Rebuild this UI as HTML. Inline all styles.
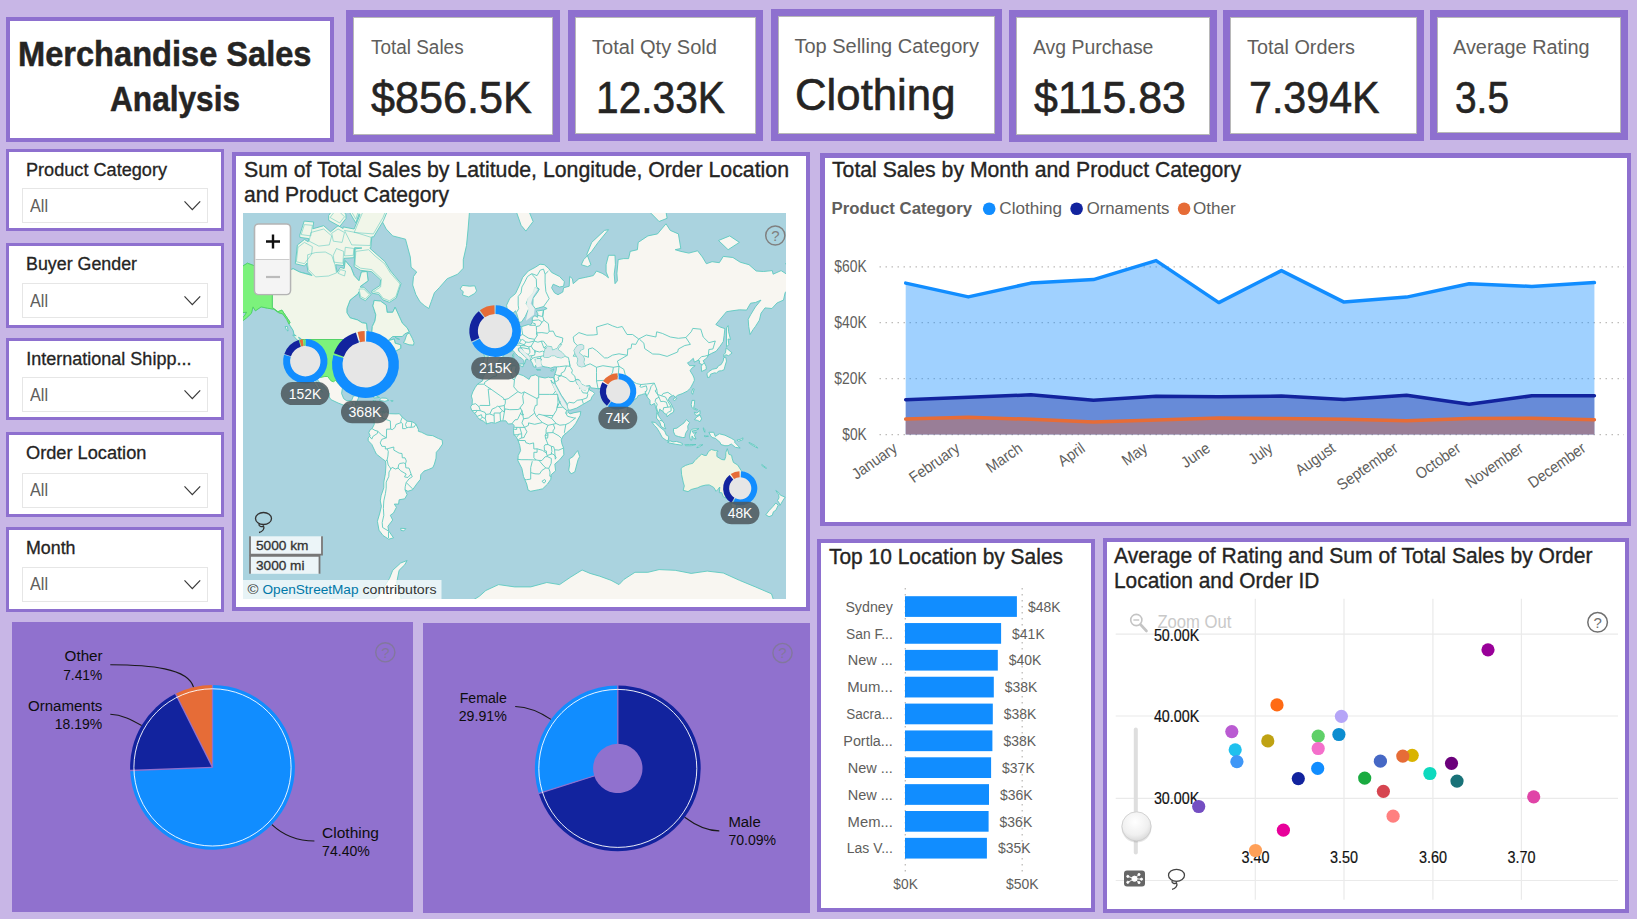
<!DOCTYPE html>
<html lang="en"><head><meta charset="utf-8"><title>Merchandise Sales Analysis</title>
<style>
html,body{margin:0;padding:0}
body{width:1637px;height:919px;background:#C8B6E6;position:relative;overflow:hidden;font-family:"Liberation Sans",sans-serif}
.panel{position:absolute;box-sizing:border-box;background:#fff;border:4px solid #8E70CF}
.card{position:absolute;box-sizing:border-box;background:#fff;border:7px solid #8E70CF;box-shadow:inset 0 0 0 1px #B8B8B8}
.fill{position:absolute;background:#9071CE}
.dd{position:absolute;box-sizing:border-box;background:#fff;border:1px solid #E6E6E6}
.t{position:absolute;white-space:nowrap;transform-origin:0 50%;display:block}
.abs{position:absolute}
svg text{font-family:"Liberation Sans",sans-serif}
</style></head>
<body>
<div class="panel" style="left:6px;top:17px;width:328px;height:125px;border-width:4px">
</div>
<span class="t" style="left:18.00px;top:36.37px;font-size:35px;line-height:35px;color:#252423;font-weight:bold;-webkit-text-stroke:0.5px #252423;transform:scaleX(0.9313);">Merchandise Sales</span>
<span class="t" style="left:110.20px;top:80.97px;font-size:35px;line-height:35px;color:#252423;font-weight:bold;-webkit-text-stroke:0.5px #252423;transform:scaleX(0.9030);">Analysis</span>
<div class="card" style="left:346px;top:10px;width:214px;height:132px"></div>
<span class="t" style="left:370.70px;top:36.67px;font-size:20px;line-height:20px;color:#605E5C;transform:scaleX(0.9465);">Total Sales</span>
<span class="t" style="left:371.20px;top:74.61px;font-size:45px;line-height:45px;color:#252423;-webkit-text-stroke:0.6px #252423;transform:scaleX(0.9591);">$856.5K</span>
<div class="card" style="left:568px;top:10px;width:195px;height:131px"></div>
<span class="t" style="left:592.00px;top:36.67px;font-size:20px;line-height:20px;color:#605E5C;transform:scaleX(1.0040);">Total Qty Sold</span>
<span class="t" style="left:596.00px;top:74.61px;font-size:45px;line-height:45px;color:#252423;-webkit-text-stroke:0.6px #252423;transform:scaleX(0.9044);">12.33K</span>
<div class="card" style="left:771px;top:9px;width:231px;height:132px"></div>
<span class="t" style="left:794.40px;top:35.87px;font-size:20px;line-height:20px;color:#605E5C;">Top Selling Category</span>
<span class="t" style="left:795.00px;top:71.91px;font-size:45px;line-height:45px;color:#252423;-webkit-text-stroke:0.6px #252423;transform:scaleX(0.9721);">Clothing</span>
<div class="card" style="left:1009px;top:10px;width:208px;height:132px"></div>
<span class="t" style="left:1032.70px;top:36.67px;font-size:20px;line-height:20px;color:#605E5C;transform:scaleX(0.9698);">Avg Purchase</span>
<span class="t" style="left:1034.00px;top:74.61px;font-size:45px;line-height:45px;color:#252423;-webkit-text-stroke:0.6px #252423;transform:scaleX(0.9540);">$115.83</span>
<div class="card" style="left:1223px;top:10px;width:201px;height:131px"></div>
<span class="t" style="left:1247.00px;top:36.67px;font-size:20px;line-height:20px;color:#605E5C;transform:scaleX(0.9915);">Total Orders</span>
<span class="t" style="left:1248.80px;top:74.61px;font-size:45px;line-height:45px;color:#252423;-webkit-text-stroke:0.6px #252423;transform:scaleX(0.9157);">7.394K</span>
<div class="card" style="left:1430px;top:10px;width:198px;height:130px"></div>
<span class="t" style="left:1453.00px;top:36.67px;font-size:20px;line-height:20px;color:#605E5C;transform:scaleX(0.9934);">Average Rating</span>
<span class="t" style="left:1455.00px;top:74.61px;font-size:45px;line-height:45px;color:#252423;-webkit-text-stroke:0.6px #252423;transform:scaleX(0.8632);">3.5</span>
<div class="panel" style="left:6px;top:149px;width:218px;height:82px;border-width:3px"></div>
<span class="t" style="left:26.30px;top:161.16px;font-size:18px;line-height:18px;color:#252423;-webkit-text-stroke:0.3px #252423;transform:scaleX(1.0066);">Product Category</span>
<div class="dd" style="left:21.5px;top:188.3px;width:186.5px;height:35px"></div>
<span class="t" style="left:30.00px;top:198.09px;font-size:17.5px;line-height:17.5px;color:#605E5C;transform:scaleX(0.9255);">All</span>
<svg class="abs" style="left:182px;top:199.3px" width="20" height="13" viewBox="0 0 20 13"><path d="M2.5 2.4 L10.3 10.6 L18.2 2.4" fill="none" stroke="#3a3a3a" stroke-width="1.25"/></svg>
<div class="panel" style="left:6px;top:243px;width:218px;height:85px;border-width:3px"></div>
<span class="t" style="left:26.30px;top:255.36px;font-size:18px;line-height:18px;color:#252423;-webkit-text-stroke:0.3px #252423;transform:scaleX(0.9905);">Buyer Gender</span>
<div class="dd" style="left:21.5px;top:283.2px;width:186.5px;height:35px"></div>
<span class="t" style="left:30.00px;top:292.99px;font-size:17.5px;line-height:17.5px;color:#605E5C;transform:scaleX(0.9255);">All</span>
<svg class="abs" style="left:182px;top:294.2px" width="20" height="13" viewBox="0 0 20 13"><path d="M2.5 2.4 L10.3 10.6 L18.2 2.4" fill="none" stroke="#3a3a3a" stroke-width="1.25"/></svg>
<div class="panel" style="left:6px;top:338px;width:218px;height:82px;border-width:3px"></div>
<span class="t" style="left:26.30px;top:349.96px;font-size:18px;line-height:18px;color:#252423;-webkit-text-stroke:0.3px #252423;">International Shipp...</span>
<div class="dd" style="left:21.5px;top:377.3px;width:186.5px;height:35px"></div>
<span class="t" style="left:30.00px;top:387.09px;font-size:17.5px;line-height:17.5px;color:#605E5C;transform:scaleX(0.9255);">All</span>
<svg class="abs" style="left:182px;top:388.3px" width="20" height="13" viewBox="0 0 20 13"><path d="M2.5 2.4 L10.3 10.6 L18.2 2.4" fill="none" stroke="#3a3a3a" stroke-width="1.25"/></svg>
<div class="panel" style="left:6px;top:432px;width:218px;height:85px;border-width:3px"></div>
<span class="t" style="left:26.30px;top:443.96px;font-size:18px;line-height:18px;color:#252423;-webkit-text-stroke:0.3px #252423;transform:scaleX(1.0112);">Order Location</span>
<div class="dd" style="left:21.5px;top:472.5px;width:186.5px;height:35px"></div>
<span class="t" style="left:30.00px;top:482.29px;font-size:17.5px;line-height:17.5px;color:#605E5C;transform:scaleX(0.9255);">All</span>
<svg class="abs" style="left:182px;top:483.5px" width="20" height="13" viewBox="0 0 20 13"><path d="M2.5 2.4 L10.3 10.6 L18.2 2.4" fill="none" stroke="#3a3a3a" stroke-width="1.25"/></svg>
<div class="panel" style="left:6px;top:527px;width:218px;height:85px;border-width:3px"></div>
<span class="t" style="left:26.30px;top:538.56px;font-size:18px;line-height:18px;color:#252423;-webkit-text-stroke:0.3px #252423;transform:scaleX(0.9894);">Month</span>
<div class="dd" style="left:21.5px;top:566.5px;width:186.5px;height:35px"></div>
<span class="t" style="left:30.00px;top:576.29px;font-size:17.5px;line-height:17.5px;color:#605E5C;transform:scaleX(0.9255);">All</span>
<svg class="abs" style="left:182px;top:577.5px" width="20" height="13" viewBox="0 0 20 13"><path d="M2.5 2.4 L10.3 10.6 L18.2 2.4" fill="none" stroke="#3a3a3a" stroke-width="1.25"/></svg>
<div class="panel" style="left:232px;top:152px;width:578px;height:459px"></div>
<span class="t" style="left:243.70px;top:159.80px;font-size:21.5px;line-height:21.5px;color:#252423;-webkit-text-stroke:0.35px #252423;transform:scaleX(0.9898);">Sum of Total Sales by Latitude, Longitude, Order Location</span>
<span class="t" style="left:243.70px;top:184.60px;font-size:21.5px;line-height:21.5px;color:#252423;-webkit-text-stroke:0.35px #252423;transform:scaleX(0.9801);">and Product Category</span>
<svg class="abs" style="left:243px;top:213px" width="543" height="386" viewBox="243 213 543 386"><rect x="243" y="213" width="543" height="386" fill="#AAD3DF"/><path d="M229.0 288.6 L232.2 277.4 L238.6 268.7 L247.4 263.2 L261.1 268.2 L272.3 271.5 L281.9 272.9 L293.2 268.7 L299.6 272.0 L310.8 274.7 L315.6 277.8 L325.3 279.5 L334.9 279.1 L342.9 277.4 L345.3 260.7 L350.9 267.2 L354.2 275.6 L359.0 280.8 L361.4 272.0 L367.0 271.5 L368.1 280.8 L360.6 286.2 L358.2 293.6 L350.1 300.1 L346.9 308.5 L346.9 312.7 L350.1 317.8 L357.4 319.9 L362.2 322.8 L366.5 323.4 L367.0 329.2 L369.4 333.7 L371.8 332.9 L372.3 326.5 L375.0 320.8 L375.8 314.8 L372.9 305.9 L374.2 300.4 L380.6 301.1 L386.2 305.2 L387.1 312.3 L392.7 312.3 L395.1 307.2 L399.1 316.3 L402.3 323.1 L407.1 327.8 L409.2 331.8 L404.7 333.9 L402.3 336.5 L392.7 336.5 L387.9 340.7 L394.3 339.0 L395.1 343.2 L400.7 344.8 L400.7 348.3 L393.5 352.4 L391.9 349.0 L386.2 352.0 L385.1 355.7 L386.2 356.6 L380.2 358.6 L377.4 363.2 L376.6 366.5 L377.4 369.9 L373.4 372.5 L368.6 376.5 L368.1 380.8 L370.0 385.8 L369.6 388.7 L367.3 386.9 L365.7 383.6 L363.8 379.9 L359.8 379.2 L355.0 379.5 L355.1 381.6 L351.7 381.0 L346.9 380.8 L342.6 384.2 L342.4 388.2 L341.6 393.5 L343.7 398.7 L346.9 400.9 L351.7 400.3 L353.3 396.1 L359.0 395.3 L358.2 398.7 L356.9 401.6 L356.1 404.9 L363.0 405.0 L365.1 406.4 L364.4 410.5 L364.4 413.4 L367.0 416.3 L370.5 415.7 L373.4 416.0 L374.5 417.2 L373.6 419.3 L369.7 419.1 L367.8 418.1 L365.4 417.5 L361.1 414.7 L358.2 409.7 L351.7 408.0 L347.4 404.3 L343.7 405.2 L338.1 403.0 L330.9 399.6 L329.3 397.0 L329.3 393.5 L325.3 388.5 L321.2 384.5 L317.6 379.9 L314.5 376.7 L314.8 379.9 L318.0 384.5 L320.4 389.1 L322.9 392.3 L318.5 389.1 L314.8 384.5 L312.7 379.9 L310.7 375.2 L308.4 372.3 L305.0 371.1 L303.0 367.1 L302.0 364.6 L299.9 361.1 L299.1 355.7 L299.6 346.2 L298.5 341.0 L302.0 340.7 L301.2 338.8 L294.0 334.5 L293.2 330.5 L289.5 325.1 L286.7 319.3 L282.7 313.9 L278.7 312.7 L273.9 309.2 L267.5 308.2 L261.1 306.9 L255.4 310.8 L253.0 306.9 L251.4 313.3 L246.6 317.8 L241.0 322.2 L234.6 324.5 L238.6 320.8 L244.2 316.3 L246.6 312.3 L241.0 312.7 L238.6 308.5 L233.8 305.2 L232.2 300.8 L234.3 298.3 L240.2 296.1 L240.2 292.4 L234.6 292.8 L231.4 292.0ZM381.4 219.9 L389.5 204.4 L402.3 183.6 L426.4 173.8 L450.5 164.2 L466.5 183.6 L479.3 189.2 L469.7 209.0 L468.1 229.0 L466.5 245.5 L463.3 259.6 L463.3 268.2 L457.7 274.2 L447.2 278.7 L439.2 287.8 L434.4 292.8 L431.2 301.8 L428.8 308.5 L424.8 305.9 L420.0 301.8 L415.9 294.7 L412.7 285.0 L413.5 276.5 L416.7 272.0 L411.1 267.2 L410.3 257.0 L405.5 239.2 L392.7 235.9 L386.2 229.0ZM374.5 417.2 L377.4 413.9 L379.8 412.7 L383.8 410.9 L383.8 413.4 L386.2 411.7 L389.5 413.7 L395.9 413.9 L399.4 413.7 L402.3 417.2 L407.1 421.2 L411.9 421.6 L415.9 424.0 L418.4 429.4 L418.4 431.3 L421.6 432.3 L427.2 435.1 L432.8 435.7 L438.4 438.5 L442.1 439.9 L442.6 444.0 L439.2 449.0 L436.3 452.3 L436.0 458.2 L434.4 464.1 L432.8 467.6 L428.8 469.4 L424.0 471.1 L420.8 474.7 L420.4 479.3 L416.7 484.0 L412.7 489.7 L407.9 491.3 L405.0 489.7 L407.1 494.7 L404.7 498.8 L399.1 499.8 L398.6 504.1 L394.3 504.1 L396.4 507.3 L393.5 513.0 L390.3 515.3 L392.7 520.0 L387.9 526.3 L388.7 530.9 L393.5 537.8 L388.7 539.2 L383.0 535.5 L379.0 530.2 L377.4 521.3 L379.8 513.0 L381.4 506.3 L380.3 500.9 L381.1 495.7 L383.8 487.8 L383.8 482.1 L385.4 473.8 L385.9 465.9 L385.6 461.2 L382.2 458.7 L376.3 454.0 L374.7 450.6 L371.8 444.4 L368.3 440.8 L368.1 438.0 L370.2 435.9 L368.8 432.6 L370.2 429.7 L372.1 428.6 L374.2 424.5 L374.2 420.4 L373.6 419.3ZM489.1 368.7 L495.4 369.9 L500.2 367.3 L506.6 366.7 L513.0 365.9 L515.1 365.9 L516.3 366.5 L515.0 371.3 L516.3 373.2 L519.5 374.4 L523.2 375.6 L529.1 379.4 L530.7 376.1 L535.5 374.8 L538.7 376.7 L545.1 378.0 L548.4 377.1 L550.4 377.7 L553.5 377.5 L554.6 380.8 L553.5 384.0 L550.9 380.1 L552.4 384.0 L555.6 390.9 L558.3 396.1 L558.5 399.9 L561.5 405.4 L564.7 408.0 L567.9 410.5 L568.1 412.2 L570.0 413.9 L574.0 412.7 L580.8 411.5 L580.1 415.5 L575.6 423.7 L572.4 427.8 L566.8 432.6 L563.1 435.9 L561.2 439.9 L562.0 444.0 L563.6 448.1 L563.8 454.8 L559.6 459.9 L554.8 464.1 L555.6 470.8 L551.2 474.7 L550.8 479.3 L547.6 484.0 L542.7 488.8 L538.7 489.7 L530.7 491.3 L528.1 490.1 L526.7 484.0 L523.5 476.5 L521.9 468.5 L517.9 460.7 L518.2 455.6 L520.6 450.6 L519.8 445.7 L518.2 440.8 L516.6 437.5 L513.8 434.2 L513.5 430.2 L514.2 425.8 L512.6 423.7 L508.2 424.0 L505.8 420.8 L501.0 420.9 L495.4 423.2 L491.4 422.5 L486.6 423.9 L483.4 421.2 L480.1 419.6 L477.4 417.2 L476.6 415.5 L474.5 413.0 L471.8 410.5 L470.5 406.9 L472.1 404.7 L472.4 399.6 L471.3 396.1 L472.9 391.7 L475.3 387.3 L477.7 384.0 L482.6 380.8 L483.0 377.1 L485.0 373.6 L487.7 372.3ZM489.6 368.3 L488.3 366.7 L484.3 366.3 L483.4 362.8 L484.5 356.8 L483.7 353.3 L485.8 352.0 L492.2 352.7 L495.7 352.7 L496.7 349.9 L496.8 346.7 L495.1 343.9 L491.1 342.0 L493.0 340.0 L496.2 340.2 L496.0 338.0 L498.9 338.3 L501.2 335.0 L504.2 333.4 L506.1 329.2 L509.8 327.8 L512.6 326.7 L511.9 323.7 L511.8 317.8 L515.5 315.7 L515.1 319.3 L514.6 323.7 L516.3 326.5 L521.4 326.7 L528.3 324.5 L530.4 325.3 L532.3 322.2 L532.3 317.8 L534.9 315.7 L537.6 317.3 L537.8 313.6 L536.3 311.1 L543.5 310.1 L547.1 308.5 L543.5 306.6 L538.7 307.9 L535.4 308.8 L532.8 305.2 L533.1 298.3 L537.9 291.7 L539.2 289.0 L534.7 287.8 L533.1 292.8 L528.3 298.3 L526.2 303.5 L528.8 308.5 L525.4 316.3 L521.6 321.9 L519.3 322.5 L516.6 313.3 L515.6 310.8 L511.4 314.5 L507.7 312.7 L506.6 305.2 L509.8 298.3 L515.5 293.6 L519.5 285.0 L522.7 277.4 L528.3 271.0 L535.5 267.2 L540.0 264.2 L544.3 264.7 L548.4 268.2 L551.6 272.4 L559.6 276.5 L564.4 281.7 L563.6 286.2 L559.6 287.0 L553.2 284.2 L551.6 287.8 L554.5 292.8 L558.0 294.7 L562.8 292.0 L563.6 287.8 L569.2 286.2 L569.7 276.5 L572.4 278.7 L573.2 283.7 L578.9 278.7 L585.3 277.4 L593.3 275.6 L596.5 271.0 L602.1 273.3 L605.8 275.6 L608.5 277.8 L606.1 272.0 L606.1 264.7 L608.5 255.3 L615.0 255.3 L615.4 264.7 L614.2 274.2 L615.0 283.7 L617.4 280.8 L616.9 273.3 L618.2 259.6 L623.8 258.6 L628.6 258.6 L630.2 251.4 L637.4 249.7 L638.2 242.4 L647.9 235.9 L657.5 233.9 L666.0 223.8 L670.3 230.4 L678.4 233.9 L680.8 248.5 L675.2 249.7 L680.8 251.4 L688.8 253.1 L697.6 250.8 L702.4 257.0 L706.4 263.7 L712.1 261.7 L719.3 262.7 L723.3 256.4 L732.9 257.5 L740.2 262.2 L749.0 264.7 L756.2 271.0 L763.4 271.5 L772.3 270.6 L773.1 274.2 L781.1 270.6 L787.5 274.7 L795.5 280.8 L803.5 287.0 L795.5 292.8 L787.5 290.1 L785.1 292.8 L783.5 300.1 L777.1 302.9 L771.9 308.5 L765.0 307.9 L761.0 313.3 L759.4 320.2 L755.4 326.5 L753.0 329.7 L750.1 334.5 L748.7 326.5 L748.2 319.3 L750.6 314.8 L755.4 306.9 L761.0 300.1 L755.4 302.5 L750.6 303.2 L746.6 310.1 L739.4 309.8 L732.1 310.8 L726.5 311.7 L720.1 319.3 L715.8 324.5 L720.1 327.0 L724.9 328.6 L724.1 335.7 L723.3 341.5 L720.1 346.2 L716.1 351.3 L711.3 353.5 L708.4 355.1 L706.9 357.9 L703.2 360.7 L706.1 366.3 L706.3 369.3 L701.6 371.5 L701.3 366.7 L702.1 364.6 L699.2 363.2 L699.7 360.9 L697.9 360.3 L694.4 362.2 L693.3 358.3 L689.6 361.7 L687.5 362.8 L689.6 365.7 L695.2 365.7 L691.7 368.3 L690.1 370.7 L692.8 375.2 L694.1 378.0 L694.4 380.3 L692.8 383.6 L690.4 388.2 L687.2 391.2 L682.1 393.7 L677.6 395.3 L675.2 397.3 L673.5 395.3 L669.9 397.0 L668.2 399.9 L671.1 403.8 L673.9 409.7 L673.5 412.2 L669.9 414.2 L667.1 416.8 L666.8 414.7 L663.9 413.0 L662.8 411.0 L660.5 410.2 L659.9 408.9 L659.1 411.4 L658.0 413.9 L659.4 417.2 L661.5 419.9 L664.4 423.7 L664.7 426.9 L665.8 428.7 L664.6 428.6 L661.2 426.5 L659.7 422.1 L656.4 418.0 L656.9 414.7 L656.9 411.4 L655.4 406.4 L654.6 403.3 L651.6 405.0 L650.0 404.3 L650.0 400.4 L647.9 397.9 L646.3 395.3 L645.9 393.7 L643.9 393.9 L641.4 394.7 L638.2 395.6 L637.1 398.0 L635.0 399.1 L630.7 403.5 L627.5 405.5 L627.3 409.4 L626.7 414.2 L625.4 416.0 L623.0 417.8 L621.1 415.0 L619.0 410.5 L617.4 406.4 L615.8 402.1 L615.4 399.6 L615.3 396.1 L614.5 395.8 L611.8 396.5 L609.3 393.9 L611.4 392.6 L608.2 391.4 L606.1 389.4 L605.3 388.4 L598.1 388.7 L590.9 387.8 L589.8 385.5 L585.3 386.2 L581.3 383.8 L579.3 379.9 L576.9 379.2 L575.6 380.3 L576.8 383.6 L579.2 386.2 L580.0 389.1 L580.9 387.3 L581.4 389.4 L585.3 390.5 L588.8 386.9 L589.4 390.0 L592.8 391.6 L594.6 393.5 L591.7 397.2 L590.9 399.8 L586.9 402.1 L582.4 404.7 L576.8 408.0 L570.8 410.0 L568.4 410.2 L567.3 406.7 L567.1 403.8 L564.4 399.6 L561.4 395.3 L558.8 390.5 L555.6 384.5 L554.6 380.8 L554.0 377.1 L554.8 374.2 L556.2 370.3 L556.5 366.9 L554.0 366.9 L550.8 368.1 L547.6 367.3 L545.1 366.9 L542.4 366.3 L540.8 363.2 L540.7 361.1 L541.6 359.2 L540.5 358.6 L537.1 358.3 L536.8 360.0 L535.0 359.0 L535.5 361.7 L537.1 364.2 L535.5 365.3 L535.8 367.3 L533.4 366.7 L532.6 363.6 L530.7 360.7 L529.7 356.8 L528.3 354.7 L524.3 352.4 L521.9 348.6 L520.6 347.6 L518.3 348.3 L518.5 350.9 L520.4 352.4 L524.3 356.0 L528.3 359.6 L525.9 359.2 L525.2 362.2 L524.3 364.2 L523.8 360.5 L521.6 358.3 L518.3 356.4 L515.5 353.5 L513.0 350.4 L510.6 351.8 L506.6 352.9 L503.7 354.9 L503.7 356.2 L499.4 359.0 L498.1 361.5 L497.6 364.2 L495.4 366.7 L491.5 366.9ZM209.7 631.6 L257.9 624.7 L306.0 606.7 L333.3 598.8 L354.2 601.3 L370.2 601.3 L378.2 596.3 L389.5 578.3 L392.7 570.3 L400.7 563.0 L407.1 560.5 L404.7 564.8 L399.1 570.3 L396.7 582.5 L400.7 596.3 L402.3 612.3 L426.4 631.6 L450.5 618.3 L466.5 604.0 L479.3 596.3 L485.8 590.5 L498.6 584.6 L514.6 586.9 L530.7 586.9 L546.8 582.5 L559.6 584.6 L570.8 577.0 L582.1 570.0 L590.1 573.4 L599.7 576.2 L611.0 580.3 L619.0 584.6 L623.8 579.5 L635.0 572.3 L647.9 572.3 L659.1 569.6 L675.2 570.3 L691.2 573.4 L707.2 571.1 L723.3 573.0 L739.4 580.3 L755.4 586.9 L771.5 593.8 L773.1 598.8 L795.5 631.6 L795.5 688.2 L209.7 688.2ZM489.8 336.8 L493.0 336.2 L497.0 335.2 L500.7 333.9 L499.9 333.2 L501.3 330.0 L499.1 329.2 L498.6 327.3 L496.7 324.8 L495.4 321.4 L493.5 320.8 L495.4 316.0 L492.2 315.7 L493.5 313.0 L490.6 313.0 L489.0 316.3 L489.8 320.8 L490.6 323.7 L493.0 323.9 L493.8 327.0 L491.4 328.4 L491.7 330.5 L490.3 332.4 L493.5 333.4 L491.4 334.5ZM482.6 332.4 L485.8 332.6 L488.6 331.1 L489.0 327.8 L489.3 325.1 L488.2 323.1 L485.3 323.1 L485.0 325.3 L482.6 325.9 L483.7 328.6 L482.2 331.1ZM460.1 289.0 L462.5 285.4 L469.7 286.2 L474.8 285.8 L476.6 290.9 L474.5 293.6 L468.6 296.9 L462.5 295.0 L463.3 291.7ZM707.6 377.5 L709.7 377.1 L710.5 374.2 L714.5 372.8 L716.6 373.2 L718.5 371.1 L721.7 370.7 L724.1 369.7 L724.9 366.3 L726.5 361.1 L725.7 357.1 L723.6 357.9 L723.3 360.7 L721.1 364.6 L718.5 365.7 L716.9 368.3 L712.4 369.3 L708.9 371.5 L706.9 373.8ZM723.8 356.8 L725.7 354.7 L728.6 355.7 L732.1 352.9 L730.2 351.3 L726.2 347.9 L725.4 352.9 L723.8 354.7ZM726.5 346.7 L728.9 344.8 L728.1 339.0 L730.5 339.5 L728.6 331.8 L728.1 325.6 L726.5 327.8 L726.5 337.0ZM691.5 392.6 L692.6 394.4 L694.2 389.1 L692.8 388.7ZM673.1 399.2 L674.5 400.9 L676.8 398.4 L675.2 397.7ZM626.7 418.0 L627.2 415.0 L629.9 418.8 L628.9 420.8 L627.2 421.2ZM577.7 450.6 L579.7 456.5 L578.0 459.9 L574.8 472.0 L571.1 473.8 L568.7 470.3 L569.7 464.1 L569.2 459.0 L573.2 456.5 L575.6 453.1ZM651.6 421.9 L655.1 422.5 L659.6 426.9 L664.7 431.0 L666.3 435.1 L668.7 436.4 L668.4 440.4 L666.3 440.4 L662.3 437.5 L659.7 432.6 L657.0 428.2 L654.3 425.3ZM667.4 442.1 L670.0 440.8 L673.1 441.9 L676.4 441.4 L679.5 442.4 L682.4 443.5 L682.2 445.2 L675.2 444.2 L669.5 443.0ZM673.5 428.6 L676.8 428.2 L680.0 425.8 L684.0 422.9 L686.4 419.6 L689.6 422.5 L687.7 426.1 L688.0 429.4 L685.6 433.4 L684.8 437.5 L682.4 437.5 L678.4 436.5 L675.2 435.5 L673.5 431.8ZM690.4 439.9 L689.6 435.9 L690.9 430.2 L692.8 429.1 L698.9 428.6 L696.0 430.4 L692.0 431.0 L693.6 433.4 L696.5 432.3 L694.4 435.1 L696.0 439.1 L693.6 438.3 L692.0 435.9 L691.8 440.1ZM708.9 432.3 L713.7 432.3 L715.3 436.4 L719.3 433.8 L724.9 435.2 L731.3 438.3 L735.3 440.8 L734.5 442.1 L740.2 448.1 L735.3 447.3 L731.3 444.0 L728.1 445.7 L724.9 445.7 L720.9 444.5 L720.1 442.4 L715.3 438.3 L712.1 437.5 L710.5 435.5ZM692.0 400.4 L694.7 400.4 L694.4 404.7 L693.6 407.7 L697.6 409.7 L696.8 410.2 L692.8 408.5 L691.7 406.9 L691.2 404.7ZM694.4 419.6 L696.8 417.0 L700.0 415.0 L701.6 418.8 L700.0 421.7 L697.6 420.4ZM694.4 412.2 L696.8 413.0 L700.0 410.5 L700.0 414.2 L696.8 415.5 L695.2 414.7ZM730.8 503.4 L736.5 503.7 L736.1 508.9 L733.3 509.8 L731.6 506.7ZM775.8 490.5 L778.4 492.3 L780.3 495.1 L785.1 497.2 L782.7 500.9 L780.0 505.4 L779.2 503.0 L777.5 500.5 L779.0 497.8 L778.7 494.7ZM775.8 503.0 L778.2 505.2 L775.9 510.2 L773.4 511.8 L772.3 515.3 L769.0 516.7 L765.8 514.8 L769.0 510.7 L773.1 506.3ZM362.2 394.6 L366.2 392.4 L370.2 392.6 L375.0 395.3 L379.5 397.5 L373.9 398.0 L373.4 396.6 L367.0 394.0ZM379.2 400.4 L381.4 398.0 L386.2 398.2 L388.8 400.3 L384.6 401.3ZM581.3 264.7 L587.7 266.7 L590.9 264.7 L586.9 254.2 L591.7 242.4 L604.5 230.4 L608.5 229.7 L598.1 242.4 L591.7 251.4 L583.7 259.6ZM516.3 211.6 L521.1 225.3 L525.9 231.1 L533.1 221.5 L529.1 211.6 L541.9 204.4 L530.7 199.6 L516.3 206.3ZM651.1 213.3 L659.1 221.5 L667.1 218.3 L665.5 209.0 L654.3 199.6ZM718.5 240.5 L728.1 249.7 L739.4 242.4 L729.7 235.9ZM518.7 364.2 L523.5 363.8 L523.0 366.9 L518.7 365.0ZM511.9 357.9 L514.2 357.9 L514.0 361.7 L512.2 362.2ZM512.4 354.7 L513.8 353.5 L513.7 356.8 L512.6 356.4ZM550.8 370.3 L554.0 369.1 L553.2 370.9 L550.8 370.9ZM536.3 369.3 L540.8 369.9 L537.1 370.3ZM400.7 528.3 L405.8 528.6 L403.9 530.9 L401.0 530.4ZM209.7 431.0 L209.7 431.0 L209.7 431.0ZM761.8 464.5 L766.6 468.1 L765.7 468.3 L761.8 465.5ZM749.0 442.4 L755.4 445.7 L757.8 448.1 L755.4 447.0 L749.3 443.4ZM736.9 440.1 L741.0 439.1 L743.0 437.8 L742.6 439.9 L738.5 441.2ZM696.8 447.8 L699.2 445.3 L702.8 444.7 L699.2 447.0ZM684.8 444.7 L689.6 444.5 L696.0 444.5 L691.2 445.7 L685.6 445.7ZM703.2 427.8 L704.8 429.4 L704.8 432.3 L703.7 430.2ZM704.0 435.9 L708.5 436.2 L705.6 436.7ZM372.9 400.6 L376.1 401.1 L374.5 401.6ZM390.7 400.6 L393.2 400.8 L391.9 401.5ZM785.4 263.7 L789.1 262.7 L787.5 265.2ZM570.8 199.6 L586.9 204.4 L598.1 196.6 L586.9 189.2Z" fill="#F8F6F1" stroke="#5CC9BF" stroke-width="0.9" stroke-linejoin="round"/><path d="M281.9 272.9 L293.2 268.7 L299.6 272.0 L312.0 275.5 L307.9 271.3 L306.9 265.3 L306.9 263.1 L304.5 266.0 L295.3 263.7 L297.4 245.0 L304.4 239.5 L308.2 241.7 L308.8 238.6 L299.9 237.4 L299.7 235.2 L304.2 221.1 L313.7 222.0 L312.8 228.8 L323.7 225.7 L330.5 231.8 L338.1 225.7 L343.1 228.5 L343.2 226.9 L354.1 229.0 L360.0 214.8 L359.1 213.7 L355.8 222.9 L341.4 198.5 L341.5 193.0 L351.0 185.3 L352.2 187.3 L353.9 178.3 L386.3 163.5 L400.5 172.6 L400.6 179.0 L383.3 220.9 L373.5 237.0 L371.8 236.8 L370.7 248.2 L369.8 248.2 L384.9 261.6 L390.6 271.0 L401.0 283.6 L396.3 297.9 L389.5 302.4 L382.8 299.8 L378.8 294.4 L372.0 293.1 L371.9 290.8 L380.0 285.5 L380.6 279.9 L371.7 271.7 L360.5 270.3 L354.1 266.5 L355.2 248.9 L361.9 248.0 L354.6 247.7 L353.9 257.7 L344.0 258.3 L343.5 265.6 L335.7 264.7 L337.2 272.3 L340.4 267.4 L344.2 268.5 L345.3 260.7 L350.9 267.2 L354.2 275.6 L359.0 280.8 L361.4 272.0 L367.0 271.5 L368.1 280.8 L360.6 286.2 L360.3 287.2 L363.9 287.2 L370.8 294.3 L370.8 294.9 L365.5 300.7 L360.1 297.9 L358.7 291.8 L358.2 293.6 L350.1 300.1 L346.9 308.5 L346.9 312.7 L350.1 317.8 L357.4 319.9 L362.2 322.8 L366.5 323.4 L367.0 329.2 L369.4 333.7 L371.8 332.9 L372.3 326.5 L375.0 320.8 L375.8 314.8 L372.9 305.9 L374.2 300.4 L380.6 301.1 L386.2 305.2 L387.1 312.3 L392.7 312.3 L395.1 307.2 L402.3 323.1 L407.1 327.8 L409.2 331.8 L404.7 333.9 L402.3 336.5 L392.7 336.5 L387.9 340.7 L394.3 339.0 L395.1 343.2 L400.7 344.8 L400.7 348.3 L395.2 351.4 L392.6 350.6 L391.9 349.0 L391.1 349.5 L389.8 344.4 L387.5 343.4 L383.8 349.0 L378.7 349.0 L375.8 351.3 L366.2 355.7 L366.2 348.3 L363.0 345.5 L355.0 342.0 L346.1 339.5 L301.5 339.5 L301.2 338.8 L298.5 337.2 L300.5 340.8 L300.8 340.8 L300.7 341.2 L298.5 341.2 L300.1 340.9 L297.2 340.0 L292.7 335.0 L296.2 335.8 L294.0 334.5 L293.2 330.5 L289.0 324.0 L290.0 322.2 L281.9 310.1 L277.9 311.7 L272.3 307.5 L272.3 271.5ZM287.5 326.5 L288.0 331.1 L286.3 329.7 L285.1 326.5ZM328.7 220.3 L328.6 215.6 L336.5 204.8 L345.9 214.2 L346.0 218.5 L339.8 226.5ZM414.0 342.7 L413.5 345.1 L409.0 344.8 L403.4 342.7 L404.7 340.7 L406.8 334.5 L409.4 332.9 L412.3 338.3ZM396.7 338.8 L395.1 337.3 L399.6 339.3Z" fill="#F1F6E9" stroke="#5CC9BF" stroke-width="0.9" stroke-linejoin="round"/><path d="M399.9 284.2 L395.9 296.5 L389.5 300.8 L383.0 298.3 L379.0 292.8 L373.4 291.7 L380.6 287.0 L381.4 278.7 L371.8 269.6 L360.6 268.2 L355.0 264.7 L355.8 251.4 L368.6 249.7 L375.0 255.9 L384.6 263.7 L390.3 272.9 L399.1 282.9ZM308.4 269.6 L315.6 276.9 L328.5 276.0 L336.5 272.9 L334.9 264.7 L331.7 255.3 L325.3 252.0 L315.6 252.5 L307.6 254.8 L307.6 264.7ZM296.4 261.7 L304.4 263.7 L311.6 254.2 L312.4 246.7 L304.4 242.4 L298.0 247.3ZM354.2 232.5 L373.4 233.9 L383.0 217.5 L399.1 177.6 L386.2 169.8 L354.2 183.6 L350.9 199.6 L362.2 213.3ZM344.5 230.4 L351.7 244.9 L370.2 245.5 L371.0 237.3 L355.8 232.5ZM309.2 241.2 L318.8 246.1 L329.3 244.9 L331.7 235.9 L323.7 229.0 L310.8 232.5ZM333.3 241.2 L342.1 242.4 L344.5 232.5 L338.1 229.0 L331.7 233.2ZM344.5 255.9 L353.3 255.3 L353.8 248.5 L345.3 247.3ZM334.1 262.2 L342.9 263.2 L343.7 251.4 L336.5 248.5 L333.3 255.3ZM338.1 273.3 L344.5 276.0 L345.6 271.0 L340.5 269.6ZM359.0 289.0 L363.8 289.0 L369.4 294.7 L365.4 299.0 L360.6 296.5ZM342.9 196.6 L355.8 219.1 L360.6 204.4 L350.9 190.3ZM330.1 217.5 L339.7 223.0 L344.5 216.7 L336.5 209.0ZM301.2 234.6 L310.8 235.9 L312.4 225.3 L304.4 224.6Z" fill="none" stroke="#5CC9BF" stroke-width="0.7" stroke-opacity="0.8"/><path d="M393.5 352.4 L392.6 350.6 L395.2 351.4ZM386.2 352.0 L385.1 355.7 L386.2 356.6 L380.2 358.6 L377.4 363.2 L376.6 366.5 L377.4 369.9 L373.4 372.5 L368.6 376.5 L368.1 380.8 L370.0 385.8 L369.6 388.7 L367.3 386.9 L365.7 383.6 L363.8 379.9 L359.8 379.2 L355.0 379.5 L355.1 381.6 L351.7 381.0 L346.9 380.8 L342.6 384.2 L342.5 387.2 L338.9 384.5 L335.7 380.3 L333.3 381.8 L330.9 380.8 L327.7 376.5 L324.9 376.5 L320.4 377.5 L314.3 375.2 L310.7 375.2 L308.4 372.3 L305.0 371.1 L303.0 367.1 L302.0 364.6 L299.9 361.1 L299.1 355.7 L299.6 346.2 L298.5 341.2 L300.7 341.2 L300.8 340.8 L302.0 340.7 L301.5 339.5 L346.1 339.5 L355.0 342.0 L363.0 345.5 L366.2 348.3 L366.2 355.7 L371.8 352.9 L375.8 351.3 L378.7 349.0 L383.8 349.0 L387.5 343.4 L389.8 344.4 L391.1 349.0 L391.1 349.5ZM232.2 277.4 L238.6 268.7 L247.4 263.2 L261.1 268.2 L272.3 271.5 L272.3 307.5 L277.9 311.7 L281.9 310.1 L290.0 322.2 L289.0 324.0 L286.7 319.3 L282.7 313.9 L278.7 312.7 L273.9 309.2 L267.5 308.2 L261.1 306.9 L255.4 310.8 L253.0 306.9 L251.4 313.3 L246.6 317.8 L241.0 322.2 L234.6 324.5 L238.6 320.8 L244.2 316.3 L246.6 312.3 L241.0 312.7 L238.6 308.5 L233.8 305.2 L232.2 300.8 L234.3 298.3 L240.2 296.1 L240.2 292.4 L234.6 292.8 L231.4 292.0 L229.0 288.6Z" fill="#7CF27C" stroke="#4FD060" stroke-width="0.9"/><path d="M730.8 503.4 L736.5 503.7 L736.1 508.9 L733.3 509.8 L731.6 506.7Z" fill="#F1F4E2" stroke="#5CC9BF" stroke-width="0.9" stroke-linejoin="round"/><path d="M681.1 468.5 L681.6 474.7 L683.2 482.1 L684.3 485.9 L683.2 490.3 L688.0 491.7 L691.2 489.5 L697.6 487.8 L700.8 486.3 L705.6 485.1 L709.2 484.9 L713.7 487.4 L716.1 491.3 L717.7 489.7 L719.8 487.0 L719.3 492.7 L721.7 492.7 L723.3 496.7 L728.9 499.4 L733.4 500.1 L736.1 497.6 L739.4 496.3 L741.3 489.7 L743.4 485.9 L745.0 479.3 L744.2 473.8 L741.0 470.3 L737.7 465.0 L733.4 462.4 L732.1 458.2 L731.6 455.3 L728.9 454.3 L727.3 448.6 L725.9 452.3 L725.7 456.5 L724.6 459.9 L721.7 459.5 L716.9 456.5 L716.9 452.3 L718.2 451.0 L715.3 450.6 L711.3 449.5 L708.5 451.5 L706.4 455.5 L704.0 455.3 L701.6 454.0 L698.4 457.3 L696.0 459.3 L694.7 460.7 L692.8 463.3 L689.6 464.1 L685.6 465.4 L682.4 467.3Z" fill="#F1F4E2" stroke="#5CC9BF" stroke-width="0.9" stroke-linejoin="round"/><path d="M543.5 356.8 L543.9 352.4 L545.1 349.0 L547.6 346.2 L551.6 346.7 L552.4 350.2 L555.6 349.0 L557.2 348.3 L559.6 344.4 L561.7 344.4 L558.8 347.9 L558.0 349.5 L562.0 352.4 L565.4 356.2 L561.2 357.9 L557.2 357.3 L554.8 355.7 L551.6 355.7 L548.4 357.5 L545.5 357.5ZM577.2 345.5 L581.3 344.4 L583.7 345.5 L583.7 349.0 L580.5 350.2 L579.3 353.1 L582.9 355.7 L584.5 359.0 L583.7 362.2 L585.3 366.3 L581.3 366.9 L578.0 365.7 L577.1 363.2 L578.0 359.0 L574.8 353.5 L574.0 350.2ZM350.9 345.1 L357.4 340.7 L362.2 342.4 L363.0 345.5 L359.0 345.8 L354.2 345.3ZM357.7 355.7 L360.1 355.7 L362.2 347.4 L363.8 346.7 L367.8 347.2 L370.2 349.9 L367.3 353.1 L366.2 353.5 L364.6 351.3 L364.9 348.6 L362.5 347.2 L360.2 350.2 L357.7 352.4ZM364.7 356.4 L371.8 354.2 L371.8 353.1 L376.1 352.4 L375.8 351.1 L371.0 352.0 L370.5 353.1 L369.4 354.4 L366.2 355.3Z" fill="#AAD3DF" stroke="#5CC9BF" stroke-width="0.9" stroke-linejoin="round"/><path d="M525.9 320.8 L533.9 314.8 L534.7 308.5 L530.7 303.5 L533.1 296.5 L537.9 289.0 L534.7 287.0 L527.5 298.3 L525.9 306.9 L528.3 310.1ZM551.6 382.7 L554.8 384.5 L560.4 395.3 L566.8 405.5 L568.1 410.4 L566.8 410.5 L562.0 405.5 L558.0 396.1 L554.8 390.0ZM575.6 379.9 L579.7 380.8 L582.1 384.5 L586.9 386.7 L589.0 386.4 L588.5 390.0 L582.1 390.9 L579.7 388.2 L577.2 383.6ZM518.7 348.6 L521.9 349.0 L529.9 356.8 L529.9 360.0 L528.3 359.4 L524.3 355.7 L520.3 352.0ZM535.5 359.0 L540.3 359.0 L541.9 366.3 L537.1 367.3 L535.5 364.2ZM515.0 315.4 L518.7 320.8 L519.0 322.8 L515.5 325.1 L514.6 320.8Z" fill="#F8F6F1" fill-opacity="0.8"/><path d="M543.5 356.8 L543.9 352.4 L545.1 349.0 L547.6 346.2 L551.6 346.7 L552.4 350.2 L555.6 349.0 L557.2 348.3 L559.6 344.4 L561.7 344.4 L558.8 347.9 L558.0 349.5 L562.0 352.4 L565.4 356.2 L561.2 357.9 L557.2 357.3 L554.8 355.7 L551.6 355.7 L548.4 357.5 L545.5 357.5ZM577.2 345.5 L581.3 344.4 L583.7 345.5 L583.7 349.0 L580.5 350.2 L579.3 353.1 L582.9 355.7 L584.5 359.0 L583.7 362.2 L585.3 366.3 L581.3 366.9 L578.0 365.7 L577.1 363.2 L578.0 359.0 L574.8 353.5 L574.0 350.2Z" fill="#F8F6F1" fill-opacity="0.55"/><path d="M543.5 310.1 L542.7 316.3 L543.9 320.2 L548.4 323.7 L549.2 331.3 L553.2 331.1 L555.6 336.0 L562.8 338.0 L562.3 342.4 L559.9 344.1M574.8 353.5 L573.2 356.2 L576.4 356.2M577.2 345.5 L574.0 342.0 L573.2 337.0 L578.9 332.6 L586.9 335.2 L593.3 335.0 L597.3 334.5 L596.5 327.0 L607.7 323.7 L612.6 325.9 L617.4 327.6 L622.2 326.5 L627.0 334.5 L632.6 334.5 L638.7 339.0M638.7 339.0 L646.3 335.0 L655.9 337.0 L656.7 331.8 L662.3 333.4 L670.3 337.0 L678.4 338.3 L685.9 337.5 L690.4 344.4 L684.8 345.5 L678.4 349.0 L677.6 352.0 L667.1 356.4 L659.1 354.2 L652.7 354.0 L644.7 348.6 L643.9 343.2 L639.5 339.3M685.9 337.5 L691.2 331.8 L692.8 328.4 L700.8 329.2 L703.2 337.0 L708.9 342.7 L715.3 341.0 L712.9 349.0 L708.9 349.5 L708.4 355.1M583.7 355.7 L588.5 357.3 L588.5 349.0 L592.5 347.9 L596.5 350.6 L604.5 357.9 L607.7 357.9 L612.6 355.1 L619.0 353.8 L627.3 355.3 L627.8 349.0 L631.0 348.6 L631.8 343.9 L635.8 344.4 L638.7 339.0M627.3 355.3 L617.4 361.1 L619.0 366.3 L623.8 369.3 L625.4 375.2 L629.4 379.4 L636.6 383.6 L641.1 384.5 L646.3 384.0 L654.3 383.1 L656.7 389.1 L657.5 394.4 L661.5 395.8 L663.1 393.5 L667.9 392.3 L671.9 395.3M605.3 388.4 L598.1 388.7 L596.5 380.8 L604.5 380.3 L610.1 376.5 L612.6 372.3 L613.4 367.3 L619.0 366.3M608.2 391.4 L612.6 390.0 L611.0 383.6 L615.8 379.9 L618.2 375.2 L619.0 366.3M596.5 380.8 L596.5 372.3 L596.5 367.3 L602.9 365.7 L613.4 367.3M569.2 361.1 L570.0 366.3 L572.4 370.3 L571.6 373.2 L574.8 376.1 L575.6 379.9 L576.4 379.9M596.5 367.3 L590.1 363.8 L585.3 365.7M556.5 366.9 L559.6 366.7 L566.0 365.9 L570.0 366.3 L569.2 361.1 L568.4 357.5 L565.4 356.6M554.8 374.2 L557.2 375.2 L561.2 375.7 L561.2 373.2 L564.4 371.3 L566.5 365.9M561.2 375.7 L558.0 377.1 L558.8 379.9 L556.4 381.4 L554.6 380.8M561.2 375.7 L566.0 377.7 L570.0 381.4 L573.2 381.6 L575.6 380.3M567.3 404.0 L569.2 402.3 L574.0 403.0 L577.2 400.3 L582.1 399.6 L583.3 403.7M582.1 399.6 L586.9 397.9 L587.8 394.4 L587.2 393.2 L582.9 392.8 L581.4 390.3M587.2 393.2 L588.5 390.9 L589.0 388.0M641.1 384.5 L639.8 386.7 L641.4 387.3 L646.3 385.8 L647.1 389.1 L646.3 391.4 L645.0 391.7 L646.7 396.1M654.3 383.1 L651.1 386.4 L649.5 391.2 L647.9 394.4 L646.7 396.1M656.7 389.1 L655.1 390.9 L657.5 394.4M657.5 394.4 L659.1 397.3 L655.9 398.7 L655.1 401.3 L657.2 404.2 L656.4 407.2 L657.8 412.2 L657.0 414.4M659.1 397.3 L660.7 401.6 L663.1 401.3 L666.3 402.1 L667.9 407.2 L663.6 407.7 L663.1 410.5M661.5 395.8 L665.5 397.0 L667.1 400.1 L671.1 406.7 L671.1 410.9 L668.4 412.2 L666.3 414.0M667.9 407.2 L671.1 406.7M659.6 420.4 L662.3 420.9M697.9 360.3 L701.6 356.6 L704.8 356.2 L708.4 355.1M702.0 364.6 L704.5 363.0M484.5 356.0 L488.2 356.0 L487.4 360.5 L486.7 365.9M495.7 352.7 L503.7 354.9M510.6 351.8 L509.8 346.9 L508.2 346.0 L510.6 342.9 L511.8 339.5 L508.6 338.3 L506.3 337.0 L502.8 334.2M508.6 338.3 L508.2 335.2 L509.8 331.1 L510.2 328.4M506.3 337.0 L508.2 335.2M504.1 333.4 L508.2 332.4 L508.2 335.2M510.6 342.9 L513.8 343.2 L519.5 343.2 L520.7 340.2 L518.2 336.2 L522.7 334.5 L522.0 330.5 L521.6 326.7M509.8 346.9 L515.3 345.3 L518.7 345.1 L520.6 345.5 L520.6 347.6M513.8 343.2 L515.3 345.3M519.5 343.2 L524.3 344.8 L525.9 342.0 L522.7 339.5 L520.7 340.2M522.7 334.5 L525.9 336.5 L528.8 338.3 L534.7 339.3 L537.1 335.7 L536.5 330.5 L536.3 326.5 L535.2 325.3 L530.4 325.3M525.9 342.0 L528.8 342.4 L534.2 341.0 L534.7 339.3M524.3 344.8 L525.1 345.8 L528.8 346.9 L531.2 346.2 L534.2 341.0M520.6 345.5 L525.1 345.8M520.6 347.6 L523.2 347.9 L529.1 349.0 L529.7 349.3 L529.9 352.4 L528.3 354.7M528.8 346.9 L529.1 349.0M531.2 346.2 L533.1 349.5 L534.7 350.2 L535.0 352.9 L534.6 355.1 L531.7 355.7 L531.7 357.9 L532.3 358.3 L530.7 360.7M529.7 356.0 L531.7 355.7M532.3 358.3 L535.5 357.3 L540.8 356.4 L540.5 358.6M535.0 352.9 L535.0 350.9 L539.5 352.0 L542.7 351.1 L544.5 352.0M540.8 356.4 L543.5 355.7M534.7 350.2 L535.0 350.9M534.2 341.0 L537.9 342.2 L541.3 341.2 L543.9 347.9 L546.3 348.3M541.3 341.2 L543.5 341.2 L546.8 345.5 L543.9 347.9M537.1 335.7 L536.5 332.9 L541.9 332.6 L547.6 333.4 L549.2 331.3M536.3 326.5 L539.5 325.9 L541.6 322.8 L543.9 320.2M535.2 325.3 L535.2 323.7 L532.3 322.8M532.3 320.5 L538.7 319.9 L541.6 321.7 L541.6 322.8M537.6 315.1 L541.1 316.3 L542.7 316.3M543.5 310.1 L542.7 316.3M543.5 306.6 L549.2 298.7 L545.9 291.7 L545.1 282.9 L545.1 274.2 L548.4 271.0M539.2 289.0 L536.6 287.0 L536.3 279.1 L531.5 273.8 L532.3 273.8 L537.1 275.6 L540.3 270.1 L543.5 269.1 L545.1 274.2M531.5 273.8 L527.5 276.5 L524.3 282.9 L521.9 287.0 L521.1 292.8 L518.2 296.5 L518.2 305.2 L518.7 308.5 L517.1 311.7M512.6 323.9 L514.3 324.2M477.7 384.2 L484.6 384.2 L484.6 382.3 L493.0 376.7 L496.7 375.9 L495.4 370.1M484.6 384.9 L490.9 389.1 L500.5 395.9 L503.7 398.2 L503.7 399.6 L505.3 399.4 L508.2 398.7 L517.9 391.7 L513.8 386.9 L514.5 379.5 L513.0 379.5 L510.6 372.6 L512.2 366.5M514.5 379.5 L517.1 374.0M517.9 391.7 L521.4 393.3 L524.3 391.9 L537.1 398.7 L537.1 397.9 L538.7 397.9 L538.7 394.4 L538.7 376.9M538.7 394.4 L549.2 394.4 L553.2 394.4 L557.7 394.4M537.1 398.7 L537.1 405.2 L535.4 405.4 L533.9 410.2 L534.7 413.0 L536.6 416.8 L542.4 422.5 L548.0 425.3M524.3 391.9 L522.7 396.1 L523.5 403.3 L520.3 407.4 L521.1 409.7 L521.9 410.0 L522.5 413.2 L523.5 414.9 L521.4 414.7 L520.7 413.0 L522.0 411.0 L521.4 410.5M520.3 407.4 L520.4 408.5 L517.9 409.5 L509.8 409.7 L505.0 408.9 L504.4 411.9M505.3 399.4 L505.3 403.3 L504.4 405.5 L498.9 406.5 L497.5 406.2 L495.4 407.7 L492.2 409.0 L489.8 414.0 L485.8 414.4 L485.0 412.4 L480.3 410.7 L479.0 406.7 L480.1 405.4 L489.8 405.5 L488.2 389.1 L490.9 389.1M472.1 404.5 L475.6 403.7 L479.0 406.7M471.8 410.7 L476.6 410.4 L480.3 410.7M474.5 413.0 L476.6 411.9 L476.6 410.4M477.4 416.3 L481.4 414.7 L482.1 417.2 L480.1 419.8M482.1 417.2 L485.3 418.6 L486.6 423.9M485.8 414.4 L485.3 418.6M489.8 414.0 L494.1 415.5 L494.3 422.7M494.1 415.5 L494.1 413.0 L500.0 413.0 L500.5 421.1M500.0 413.0 L502.5 410.9 L504.4 411.9 L502.9 420.6M498.9 406.5 L502.5 410.9M504.4 411.9 L504.4 405.5M512.2 423.4 L515.0 419.8 L517.5 419.6 L520.7 413.0M522.5 413.2 L523.5 418.8 L521.9 422.9 L524.6 427.4 L519.8 427.4 L514.3 427.3M523.5 418.8 L528.3 418.0 L534.7 413.0M524.6 427.4 L528.5 425.3 L528.5 422.9 L534.7 424.3 L542.4 422.5M514.3 429.4 L516.7 429.4 L516.7 427.4M513.5 434.9 L517.2 434.7 L519.0 434.2 L521.7 433.8 L519.8 427.4M516.6 437.3 L519.0 434.2M521.7 433.8 L521.7 438.0 L519.6 438.6 L518.2 440.4M524.6 427.4 L527.0 431.8 L524.6 435.9 L524.1 437.5 L521.7 438.0M518.2 440.4 L525.2 440.6 L525.9 442.7 L529.7 443.9 L533.6 442.9 L533.9 449.0 L537.1 448.8 L537.1 452.3M548.0 425.3 L546.1 429.4 L546.1 433.3 L545.1 435.5 L545.5 438.1 L548.0 444.5 L545.0 444.8 L544.2 446.2 L544.5 450.6 L546.4 451.0 L546.4 453.0 L542.3 450.3 L537.1 448.8M548.0 425.3 L553.2 424.2 L556.2 423.5 L556.4 423.7 L559.8 425.2 L564.4 424.7 L565.8 424.5M553.0 394.4 L555.7 391.0M557.7 394.4 L558.0 402.8 L557.0 407.4 L560.2 401.3M557.0 407.4 L556.5 410.2 L554.8 413.0 L553.2 415.5 L551.6 418.3 L556.2 423.5M536.6 416.8 L538.7 414.2 L543.4 415.3 L551.6 418.3M543.4 415.3 L551.9 415.5 L553.2 415.5M557.0 407.4 L562.8 407.2 L566.7 410.5 L567.8 410.2M566.7 410.5 L565.7 413.0 L567.6 413.0M565.7 413.0 L567.6 416.3 L574.0 418.0 L575.6 418.0 L569.2 422.9 L565.8 424.5M565.8 424.5 L564.4 432.5 L565.4 433.8M553.2 424.2 L554.8 428.1 L553.0 430.8 L553.0 432.6 L547.6 432.8 L546.1 433.3M553.0 432.6 L559.1 436.0 L561.5 438.6M547.6 432.8 L548.0 434.9 L545.1 435.5M548.0 434.9 L547.6 438.1 L545.5 438.1M548.0 444.5 L551.4 446.3 L553.7 446.8 L554.6 449.8 L558.8 450.1 L563.4 448.1M551.4 446.3 L551.9 451.6 L551.1 453.3 L554.1 454.8 L556.2 457.3 L555.3 459.2 L554.6 449.8M546.4 453.0 L547.1 455.5 L551.9 454.0 L551.1 453.3M547.1 455.5 L547.4 456.6 L551.4 458.5 L551.2 463.3 L548.8 468.3 L550.0 472.0 L549.8 476.2 L551.2 476.4M537.1 452.3 L533.9 452.3 L533.9 457.7 L536.2 460.0 L539.0 460.4 L541.9 460.5 L545.1 456.8 L547.4 456.6M517.5 459.3 L521.1 459.7 L528.1 459.7 L536.2 460.0M539.0 460.4 L542.9 465.0 L545.8 468.0 L548.8 468.3M530.7 467.6 L530.7 472.6 L530.7 479.1 L526.5 479.7 L525.1 479.5M532.3 461.2 L530.7 467.6M530.7 472.6 L535.0 473.8 L539.5 474.0 L541.9 470.4 L545.8 468.0M541.9 481.3 L544.7 479.5 L545.8 481.0 L544.2 483.2 L541.9 481.3M374.5 417.2 L373.6 419.3M383.8 410.9 L382.2 413.0 L382.2 418.0 L386.2 419.6 L390.3 420.9 L390.7 429.1 L386.6 429.2 L386.4 437.8 L385.1 437.2 L381.4 434.7 L377.7 431.2 L375.0 430.4 L372.1 428.7M369.7 436.5 L371.8 439.1 L372.8 436.5 L377.4 433.4 L377.7 431.2M402.3 417.2 L400.7 421.2 L401.2 422.5 L395.9 424.5 L395.1 427.4 L392.2 429.7 L390.7 429.1M401.2 422.5 L402.6 423.7 L402.6 428.7 L405.5 428.6 L406.6 427.8 L408.7 427.3 L411.1 427.3 L414.3 426.9 L415.8 424.2M406.6 427.8 L405.5 424.5 L406.8 421.4M411.1 427.3 L411.9 421.7M386.4 437.8 L381.8 439.3 L380.2 442.9 L381.9 446.3 L385.4 446.5 L385.3 449.0 L387.1 448.8 L388.3 451.5 L387.9 456.1 L387.1 459.9 L385.6 461.2M387.1 448.8 L393.8 447.0 L393.8 450.1 L399.1 453.1 L402.0 453.5 L402.3 457.8 L405.0 457.8 L406.3 460.9 L405.5 463.8 L403.7 462.9 L399.6 463.5 L398.6 465.0 L398.1 468.0 L395.4 469.0 L392.2 467.3 L390.9 469.0 L389.5 466.7 L388.2 465.0 L387.1 459.9M405.5 463.8 L405.8 467.8 L409.0 468.1 L411.0 473.8 L411.0 474.0 L412.3 476.7 L409.0 478.9 L406.2 482.5 L405.2 486.8 L405.0 489.7M398.1 468.0 L400.7 470.8 L406.2 474.0 L404.5 476.9 L407.9 477.5 L411.0 474.0M406.2 482.5 L412.9 489.2M390.9 469.0 L389.0 472.0 L388.8 476.5 L386.2 482.1 L386.2 488.2 L385.4 493.7 L383.8 500.9 L383.4 508.5 L383.8 515.3 L382.2 522.5 L382.6 527.5 L388.8 531.2M388.5 531.7 L388.5 538.1M350.6 407.2 L352.5 404.7 L353.5 404.5 L351.9 402.7 L352.5 401.6 L355.6 401.6 L355.6 404.9 L356.9 405.2M354.0 408.5 L355.3 407.4 L355.6 404.9M355.3 407.4 L357.8 408.4 L358.2 409.7M358.5 409.9 L359.4 408.4 L362.2 407.0 L365.1 406.4M361.1 413.0 L362.7 412.9 L364.3 413.2M365.5 417.8 L366.0 415.5" fill="none" stroke="#5CC9BF" stroke-width="0.9" stroke-linejoin="round"/><circle cx="305.3" cy="361.2" r="15.7" fill="#E6E6E6"/><path d="M305.78 339.01 A22.2 22.2 0 1 1 284.04 354.80 L290.74 356.82 A15.2 15.2 0 1 0 305.63 346.00Z" fill="#118DFF"/><path d="M284.34 353.88 A22.2 22.2 0 0 1 298.64 340.02 L300.74 346.70 A15.2 15.2 0 0 0 290.95 356.19Z" fill="#12239E"/><path d="M299.57 339.75 A22.2 22.2 0 0 1 302.73 339.15 L303.54 346.10 A15.2 15.2 0 0 0 301.38 346.51Z" fill="#E66C37"/><path d="M303.69 339.06 A22.2 22.2 0 0 1 304.82 339.01 L304.97 346.00 A15.2 15.2 0 0 0 304.20 346.04Z" fill="#6FD36F"/><circle cx="365.5" cy="364.5" r="23.5" fill="#E6E6E6"/><path d="M366.38 331.01 A33.5 33.5 0 1 1 333.38 354.99 L343.45 357.97 A23 23 0 1 0 366.10 341.51Z" fill="#118DFF"/><path d="M333.92 353.32 A33.5 33.5 0 0 1 355.92 332.40 L358.92 342.46 A23 23 0 0 0 343.82 356.82Z" fill="#12239E"/><path d="M357.61 331.94 A33.5 33.5 0 0 1 364.62 331.01 L364.90 341.51 A23 23 0 0 0 360.08 342.15Z" fill="#E66C37"/><circle cx="495.1" cy="331.1" r="17.7" fill="#E6E6E6"/><path d="M495.78 305.31 A25.8 25.8 0 1 1 472.05 342.69 L479.73 338.83 A17.2 17.2 0 1 0 495.55 313.91Z" fill="#118DFF"/><path d="M471.48 341.47 A25.8 25.8 0 0 1 478.76 311.13 L484.21 317.79 A17.2 17.2 0 0 0 479.35 338.01Z" fill="#12239E"/><path d="M479.83 310.31 A25.8 25.8 0 0 1 494.42 305.31 L494.65 313.91 A17.2 17.2 0 0 0 484.92 317.24Z" fill="#E66C37"/><circle cx="618.1" cy="391.4" r="12.7" fill="#E6E6E6"/><path d="M618.74 373.21 A18.2 18.2 0 1 1 607.92 406.49 L611.28 401.51 A12.2 12.2 0 1 0 618.53 379.21Z" fill="#118DFF"/><path d="M606.89 405.74 A18.2 18.2 0 0 1 602.40 382.19 L607.58 385.23 A12.2 12.2 0 0 0 610.59 401.01Z" fill="#12239E"/><path d="M603.08 381.12 A18.2 18.2 0 0 1 617.46 373.21 L617.67 379.21 A12.2 12.2 0 0 0 608.03 384.51Z" fill="#E66C37"/><circle cx="740.2" cy="488.3" r="11.6" fill="#E6E6E6"/><path d="M740.95 471.22 A17.1 17.1 0 1 1 732.62 503.63 L735.28 498.25 A11.1 11.1 0 1 0 740.68 477.21Z" fill="#118DFF"/><path d="M731.32 502.91 A17.1 17.1 0 0 1 729.55 474.92 L733.29 479.61 A11.1 11.1 0 0 0 734.43 497.78Z" fill="#12239E"/><path d="M730.76 474.04 A17.1 17.1 0 0 1 739.45 471.22 L739.72 477.21 A11.1 11.1 0 0 0 734.07 479.04Z" fill="#E66C37"/><rect x="280.8" y="382.1" width="48.5" height="23" rx="11.5" fill="#4D575C" fill-opacity="0.86"/><text x="305.00" y="398.64" font-size="14" fill="#fff" textLength="32.30" lengthAdjust="spacingAndGlyphs" text-anchor="middle" >152K</text><rect x="341.0" y="400.8" width="48" height="22.5" rx="11.2" fill="#4D575C" fill-opacity="0.86"/><text x="365.00" y="417.04" font-size="14" fill="#fff" textLength="33.00" lengthAdjust="spacingAndGlyphs" text-anchor="middle" >368K</text><rect x="471.2" y="356.9" width="48.5" height="22.5" rx="11.2" fill="#4D575C" fill-opacity="0.86"/><text x="495.50" y="373.14" font-size="14" fill="#fff" textLength="32.80" lengthAdjust="spacingAndGlyphs" text-anchor="middle" >215K</text><rect x="598.3" y="406.8" width="39" height="22.5" rx="11.2" fill="#4D575C" fill-opacity="0.86"/><text x="617.80" y="423.04" font-size="14" fill="#fff" textLength="24.50" lengthAdjust="spacingAndGlyphs" text-anchor="middle" >74K</text><rect x="720.5" y="501.8" width="39" height="22.5" rx="11.2" fill="#4D575C" fill-opacity="0.86"/><text x="740.00" y="518.04" font-size="14" fill="#fff" textLength="24.50" lengthAdjust="spacingAndGlyphs" text-anchor="middle" >48K</text><rect x="254.5" y="224" width="36" height="70.5" rx="4" fill="#fff" stroke="#B4B4B4" stroke-width="1.6"/><path d="M256 260 h33 v31 a2.5 2.5 0 0 1 -2.5 2.5 h-28 a2.5 2.5 0 0 1 -2.5 -2.5z" fill="#F4F4F4"/><path d="M255.5 259.5 h34" stroke="#CCCCCC" stroke-width="1"/><path d="M266 241.5 h14 M273 234.5 v14" stroke="#111" stroke-width="2.4"/><path d="M266 277 h14" stroke="#BBBBBB" stroke-width="2.2"/><circle cx="775.3" cy="235.5" r="9.6" fill="none" stroke="#808080" stroke-width="1.5"/><text x="775.30" y="241.20" font-size="15" fill="#808080" text-anchor="middle" >?</text><g fill="none" stroke="#333" stroke-width="1.3"><ellipse cx="263.5" cy="518.5" rx="8" ry="6"/><path d="M259.5 523.5 c-2 2.5 2.5 4 4 2.5 c1.5 2.5 -1 6 -4.5 6.5"/></g><rect x="249.5" y="536.3" width="73" height="18.3" fill="#fff" fill-opacity="0.78"/><path d="M250 536.3 v18.3 h72 v-18.3" fill="none" stroke="#777" stroke-width="1.8"/><text x="256.00" y="550.20" font-size="13.4" fill="#333" textLength="52.50" lengthAdjust="spacingAndGlyphs" stroke="#333" stroke-width="0.3" >5000 km</text><rect x="249.5" y="555.5" width="70.5" height="18.3" fill="#fff" fill-opacity="0.78"/><path d="M250 573.8 v-18 h69.5 v18" fill="none" stroke="#777" stroke-width="1.8"/><text x="256.00" y="570.20" font-size="13.4" fill="#333" textLength="48.50" lengthAdjust="spacingAndGlyphs" stroke="#333" stroke-width="0.3" >3000 mi</text><rect x="243" y="580" width="198.5" height="19" fill="#fff" fill-opacity="0.72"/><text y="593.6" font-size="13.4" fill="#333"><tspan x="247.5" textLength="11" lengthAdjust="spacingAndGlyphs">©</tspan><tspan x="262.5" fill="#0078A8" textLength="96" lengthAdjust="spacingAndGlyphs">OpenStreetMap</tspan><tspan x="362.5" textLength="74" lengthAdjust="spacingAndGlyphs">contributors</tspan></text></svg>
<div class="panel" style="left:820px;top:153px;width:811px;height:373px;border-width:5px 4px 4px 5px"></div>
<span class="t" style="left:831.60px;top:160.40px;font-size:21.5px;line-height:21.5px;color:#252423;-webkit-text-stroke:0.35px #252423;transform:scaleX(0.9862);">Total Sales by Month and Product Category</span>
<svg class="abs" style="left:824px;top:157px" width="803" height="365" viewBox="824 157 803 365"><text x="831.60" y="214.30" font-size="16" fill="#605E5C" textLength="140.60" lengthAdjust="spacingAndGlyphs" font-weight="bold" >Product Category</text><circle cx="989.2" cy="208.7" r="6.3" fill="#118DFF"/><text x="999.30" y="214.30" font-size="16" fill="#605E5C" textLength="62.70" lengthAdjust="spacingAndGlyphs" >Clothing</text><circle cx="1076.6" cy="208.7" r="6.3" fill="#12239E"/><text x="1086.70" y="214.30" font-size="16" fill="#605E5C" textLength="82.80" lengthAdjust="spacingAndGlyphs" >Ornaments</text><circle cx="1184.1" cy="208.7" r="6.3" fill="#E66C37"/><text x="1193.10" y="214.30" font-size="16" fill="#605E5C" textLength="42.70" lengthAdjust="spacingAndGlyphs" >Other</text><path d="M879.5 434.6 H1624" stroke="#BDBBB9" stroke-width="1.3" stroke-dasharray="1.5 4.5" fill="none"/><text x="866.80" y="440.00" font-size="15.7" fill="#605E5C" textLength="24.50" lengthAdjust="spacingAndGlyphs" text-anchor="end" >$0K</text><path d="M879.5 378.7 H1624" stroke="#BDBBB9" stroke-width="1.3" stroke-dasharray="1.5 4.5" fill="none"/><text x="866.80" y="384.05" font-size="15.7" fill="#605E5C" textLength="32.50" lengthAdjust="spacingAndGlyphs" text-anchor="end" >$20K</text><path d="M879.5 322.7 H1624" stroke="#BDBBB9" stroke-width="1.3" stroke-dasharray="1.5 4.5" fill="none"/><text x="866.80" y="328.10" font-size="15.7" fill="#605E5C" textLength="32.50" lengthAdjust="spacingAndGlyphs" text-anchor="end" >$40K</text><path d="M879.5 266.8 H1624" stroke="#BDBBB9" stroke-width="1.3" stroke-dasharray="1.5 4.5" fill="none"/><text x="866.80" y="272.15" font-size="15.7" fill="#605E5C" textLength="32.50" lengthAdjust="spacingAndGlyphs" text-anchor="end" >$60K</text><path d="M905.7 283.1 L968.3 296.9 L1030.9 283.1 L1093.5 279.6 L1156.1 260.6 L1218.8 302.6 L1281.4 270.6 L1344.0 302.1 L1406.6 297.1 L1469.2 283.8 L1531.8 286.4 L1594.4 282.6 L1594.4 434.6 L905.7 434.6Z" fill="#118DFF" fill-opacity="0.4"/><path d="M905.7 399.8 L968.3 397.3 L1030.9 394.8 L1093.5 400.3 L1156.1 396.3 L1218.8 396.8 L1281.4 396.1 L1344.0 399.6 L1406.6 395.3 L1469.2 404.3 L1531.8 395.8 L1594.4 395.8 L1594.4 434.6 L905.7 434.6Z" fill="#12239E" fill-opacity="0.4"/><path d="M905.7 419.1 L968.3 417.3 L1030.9 419.3 L1093.5 422.1 L1156.1 420.1 L1218.8 418.1 L1281.4 418.6 L1344.0 419.3 L1406.6 420.8 L1469.2 418.6 L1531.8 418.3 L1594.4 419.8 L1594.4 434.6 L905.7 434.6Z" fill="#E66C37" fill-opacity="0.4"/><path d="M905.7 283.1 L968.3 296.9 L1030.9 283.1 L1093.5 279.6 L1156.1 260.6 L1218.8 302.6 L1281.4 270.6 L1344.0 302.1 L1406.6 297.1 L1469.2 283.8 L1531.8 286.4 L1594.4 282.6" fill="none" stroke="#118DFF" stroke-width="3.5" stroke-linejoin="round" stroke-linecap="round"/><path d="M905.7 399.8 L968.3 397.3 L1030.9 394.8 L1093.5 400.3 L1156.1 396.3 L1218.8 396.8 L1281.4 396.1 L1344.0 399.6 L1406.6 395.3 L1469.2 404.3 L1531.8 395.8 L1594.4 395.8" fill="none" stroke="#12239E" stroke-width="3.5" stroke-linejoin="round" stroke-linecap="round"/><path d="M905.7 419.1 L968.3 417.3 L1030.9 419.3 L1093.5 422.1 L1156.1 420.1 L1218.8 418.1 L1281.4 418.6 L1344.0 419.3 L1406.6 420.8 L1469.2 418.6 L1531.8 418.3 L1594.4 419.8" fill="none" stroke="#E66C37" stroke-width="3.5" stroke-linejoin="round" stroke-linecap="round"/><text transform="translate(898.3 450.6) rotate(-35)" text-anchor="end" font-size="15.7" fill="#605E5C" textLength="51.1" lengthAdjust="spacingAndGlyphs">January</text><text transform="translate(960.9 450.6) rotate(-35)" text-anchor="end" font-size="15.7" fill="#605E5C" textLength="57.5" lengthAdjust="spacingAndGlyphs">February</text><text transform="translate(1023.5 450.6) rotate(-35)" text-anchor="end" font-size="15.7" fill="#605E5C" textLength="39.9" lengthAdjust="spacingAndGlyphs">March</text><text transform="translate(1086.1 450.6) rotate(-35)" text-anchor="end" font-size="15.7" fill="#605E5C" textLength="28.7" lengthAdjust="spacingAndGlyphs">April</text><text transform="translate(1148.7 450.6) rotate(-35)" text-anchor="end" font-size="15.7" fill="#605E5C" textLength="27.1" lengthAdjust="spacingAndGlyphs">May</text><text transform="translate(1211.3 450.6) rotate(-35)" text-anchor="end" font-size="15.7" fill="#605E5C" textLength="31.2" lengthAdjust="spacingAndGlyphs">June</text><text transform="translate(1274.0 450.6) rotate(-35)" text-anchor="end" font-size="15.7" fill="#605E5C" textLength="25.5" lengthAdjust="spacingAndGlyphs">July</text><text transform="translate(1336.6 450.6) rotate(-35)" text-anchor="end" font-size="15.7" fill="#605E5C" textLength="44.7" lengthAdjust="spacingAndGlyphs">August</text><text transform="translate(1399.2 450.6) rotate(-35)" text-anchor="end" font-size="15.7" fill="#605E5C" textLength="70.3" lengthAdjust="spacingAndGlyphs">September</text><text transform="translate(1461.8 450.6) rotate(-35)" text-anchor="end" font-size="15.7" fill="#605E5C" textLength="51.1" lengthAdjust="spacingAndGlyphs">October</text><text transform="translate(1524.4 450.6) rotate(-35)" text-anchor="end" font-size="15.7" fill="#605E5C" textLength="66.3" lengthAdjust="spacingAndGlyphs">November</text><text transform="translate(1587.0 450.6) rotate(-35)" text-anchor="end" font-size="15.7" fill="#605E5C" textLength="66.3" lengthAdjust="spacingAndGlyphs">December</text></svg>
<div class="fill" style="left:12px;top:622px;width:401px;height:290px;background:#9071CE"></div>
<div class="fill" style="left:423px;top:623px;width:387px;height:290px;background:#9071CE"></div>
<svg class="abs" style="left:12px;top:622px" width="401" height="290" viewBox="12 622 401 290"><path d="M212.5 767.4 L212.50 685.00 A82.4 82.4 0 1 1 130.16 770.51Z" fill="#118DFF"/><path d="M212.5 767.4 L130.16 770.51 A82.4 82.4 0 0 1 175.50 693.77Z" fill="#12239E"/><path d="M212.5 767.4 L175.50 693.77 A82.4 82.4 0 0 1 212.50 685.00Z" fill="#E66C37"/><path d="M212.5 767.4 L212.50 684.50" stroke="#9071CE" stroke-width="1.3"/><path d="M212.5 767.4 L129.66 770.52" stroke="#9071CE" stroke-width="1.3"/><path d="M212.5 767.4 L175.28 693.33" stroke="#9071CE" stroke-width="1.3"/><circle cx="212.5" cy="767.4" r="78.6" fill="none" stroke="#fff" stroke-width="1" stroke-opacity="0.9"/><g fill="none" stroke="#1a1a1a" stroke-width="1.1"><path d="M110.3 664.8 C150 665 188 668 193.5 687.2"/><path d="M110.3 714.2 C122 714.5 132 720 141.6 725.5"/><path d="M271.9 824.6 C284 836 298 841 314.4 841"/></g><text x="102.60" y="661.40" font-size="14.7" fill="#0d0d0d" textLength="38.00" lengthAdjust="spacingAndGlyphs" text-anchor="end" >Other</text><text x="102.20" y="679.60" font-size="14.7" fill="#0d0d0d" textLength="39.00" lengthAdjust="spacingAndGlyphs" text-anchor="end" >7.41%</text><text x="102.40" y="710.90" font-size="14.7" fill="#0d0d0d" textLength="74.40" lengthAdjust="spacingAndGlyphs" text-anchor="end" >Ornaments</text><text x="102.20" y="729.00" font-size="14.7" fill="#0d0d0d" textLength="47.40" lengthAdjust="spacingAndGlyphs" text-anchor="end" >18.19%</text><text x="322.10" y="837.60" font-size="14.7" fill="#0d0d0d" textLength="56.90" lengthAdjust="spacingAndGlyphs" >Clothing</text><text x="322.10" y="855.80" font-size="14.7" fill="#0d0d0d" textLength="47.80" lengthAdjust="spacingAndGlyphs" >74.40%</text><circle cx="385.3" cy="652.3" r="9.6" fill="none" stroke="#7E7A8C" stroke-width="1.4" stroke-opacity="0.75"/><text x="385.30" y="657.70" font-size="15" fill="#7E7A8C" text-anchor="middle" fill-opacity="0.75">?</text></svg>
<svg class="abs" style="left:423px;top:623px" width="387" height="290" viewBox="423 623 387 290"><path d="M617.80 685.50 A82.9 82.9 0 1 1 538.82 793.58 L594.27 775.90 A24.7 24.7 0 1 0 617.80 743.70Z" fill="#12239E"/><path d="M538.82 793.58 A82.9 82.9 0 0 1 617.80 685.50 L617.80 743.70 A24.7 24.7 0 0 0 594.27 775.90Z" fill="#118DFF"/><path d="M617.80 744.20 L617.80 685.00" stroke="#9071CE" stroke-width="1.3"/><path d="M594.74 775.75 L538.34 793.73" stroke="#9071CE" stroke-width="1.3"/><circle cx="617.8" cy="768.4" r="79" fill="none" stroke="#fff" stroke-width="1" stroke-opacity="0.9"/><g fill="none" stroke="#1a1a1a" stroke-width="1.1"><path d="M515.2 706.5 C528 707 540 712 550.9 719.4"/><path d="M684.7 817.3 C695 825 706 831 719.3 830.9"/></g><text x="506.80" y="703.10" font-size="14.7" fill="#0d0d0d" textLength="47.10" lengthAdjust="spacingAndGlyphs" text-anchor="end" >Female</text><text x="506.80" y="721.30" font-size="14.7" fill="#0d0d0d" textLength="48.10" lengthAdjust="spacingAndGlyphs" text-anchor="end" >29.91%</text><text x="728.40" y="826.90" font-size="14.7" fill="#0d0d0d" textLength="32.30" lengthAdjust="spacingAndGlyphs" >Male</text><text x="728.40" y="845.00" font-size="14.7" fill="#0d0d0d" textLength="47.70" lengthAdjust="spacingAndGlyphs" >70.09%</text><circle cx="782.5" cy="653" r="9.6" fill="none" stroke="#7E7A8C" stroke-width="1.4" stroke-opacity="0.75"/><text x="782.50" y="658.40" font-size="15" fill="#7E7A8C" text-anchor="middle" fill-opacity="0.75">?</text></svg>
<div class="panel" style="left:817px;top:539px;width:278px;height:373px"></div>
<span class="t" style="left:829.00px;top:546.50px;font-size:21.5px;line-height:21.5px;color:#252423;-webkit-text-stroke:0.35px #252423;transform:scaleX(0.9740);">Top 10 Location by Sales</span>
<svg class="abs" style="left:821px;top:543px" width="270" height="365" viewBox="821 543 270 365"><path d="M905.3 588 V872" stroke="#BDBBB9" stroke-width="1.3" stroke-dasharray="1.5 4.5"/><path d="M1022.2 588 V872" stroke="#BDBBB9" stroke-width="1.3" stroke-dasharray="1.5 4.5"/><rect x="905" y="596.20" width="111.9" height="20.7" fill="#118DFF"/><text x="892.80" y="611.75" font-size="15.5" fill="#605E5C" textLength="47.40" lengthAdjust="spacingAndGlyphs" text-anchor="end" >Sydney</text><text x="1027.90" y="611.75" font-size="15.5" fill="#605E5C" textLength="32.60" lengthAdjust="spacingAndGlyphs" >$48K</text><rect x="905" y="623.05" width="96.1" height="20.7" fill="#118DFF"/><text x="892.80" y="638.60" font-size="15.5" fill="#605E5C" textLength="46.80" lengthAdjust="spacingAndGlyphs" text-anchor="end" >San F...</text><text x="1012.10" y="638.60" font-size="15.5" fill="#605E5C" textLength="32.60" lengthAdjust="spacingAndGlyphs" >$41K</text><rect x="905" y="649.90" width="92.8" height="20.7" fill="#118DFF"/><text x="892.80" y="665.45" font-size="15.5" fill="#605E5C" textLength="45.10" lengthAdjust="spacingAndGlyphs" text-anchor="end" >New ...</text><text x="1008.80" y="665.45" font-size="15.5" fill="#605E5C" textLength="32.60" lengthAdjust="spacingAndGlyphs" >$40K</text><rect x="905" y="676.75" width="88.8" height="20.7" fill="#118DFF"/><text x="892.80" y="692.30" font-size="15.5" fill="#605E5C" textLength="45.60" lengthAdjust="spacingAndGlyphs" text-anchor="end" >Mum...</text><text x="1004.80" y="692.30" font-size="15.5" fill="#605E5C" textLength="32.60" lengthAdjust="spacingAndGlyphs" >$38K</text><rect x="905" y="703.60" width="87.8" height="20.7" fill="#118DFF"/><text x="892.80" y="719.15" font-size="15.5" fill="#605E5C" textLength="46.50" lengthAdjust="spacingAndGlyphs" text-anchor="end" >Sacra...</text><text x="1003.80" y="719.15" font-size="15.5" fill="#605E5C" textLength="32.60" lengthAdjust="spacingAndGlyphs" >$38K</text><rect x="905" y="730.45" width="87.4" height="20.7" fill="#118DFF"/><text x="892.80" y="746.00" font-size="15.5" fill="#605E5C" textLength="49.50" lengthAdjust="spacingAndGlyphs" text-anchor="end" >Portla...</text><text x="1003.40" y="746.00" font-size="15.5" fill="#605E5C" textLength="32.60" lengthAdjust="spacingAndGlyphs" >$38K</text><rect x="905" y="757.30" width="86.1" height="20.7" fill="#118DFF"/><text x="892.80" y="772.85" font-size="15.5" fill="#605E5C" textLength="45.10" lengthAdjust="spacingAndGlyphs" text-anchor="end" >New ...</text><text x="1002.10" y="772.85" font-size="15.5" fill="#605E5C" textLength="32.60" lengthAdjust="spacingAndGlyphs" >$37K</text><rect x="905" y="784.15" width="84.0" height="20.7" fill="#118DFF"/><text x="892.80" y="799.70" font-size="15.5" fill="#605E5C" textLength="45.10" lengthAdjust="spacingAndGlyphs" text-anchor="end" >New ...</text><text x="1000.00" y="799.70" font-size="15.5" fill="#605E5C" textLength="32.60" lengthAdjust="spacingAndGlyphs" >$36K</text><rect x="905" y="811.00" width="83.6" height="20.7" fill="#118DFF"/><text x="892.80" y="826.55" font-size="15.5" fill="#605E5C" textLength="45.20" lengthAdjust="spacingAndGlyphs" text-anchor="end" >Mem...</text><text x="999.60" y="826.55" font-size="15.5" fill="#605E5C" textLength="32.60" lengthAdjust="spacingAndGlyphs" >$36K</text><rect x="905" y="837.85" width="81.9" height="20.7" fill="#118DFF"/><text x="892.80" y="853.40" font-size="15.5" fill="#605E5C" textLength="46.00" lengthAdjust="spacingAndGlyphs" text-anchor="end" >Las V...</text><text x="997.90" y="853.40" font-size="15.5" fill="#605E5C" textLength="32.60" lengthAdjust="spacingAndGlyphs" >$35K</text><text x="905.60" y="888.90" font-size="15.5" fill="#605E5C" textLength="24.50" lengthAdjust="spacingAndGlyphs" text-anchor="middle" >$0K</text><text x="1022.20" y="888.90" font-size="15.5" fill="#605E5C" textLength="32.60" lengthAdjust="spacingAndGlyphs" text-anchor="middle" >$50K</text></svg>
<div class="panel" style="left:1103px;top:538px;width:526px;height:375px"></div>
<span class="t" style="left:1114.00px;top:545.80px;font-size:21.5px;line-height:21.5px;color:#252423;-webkit-text-stroke:0.35px #252423;transform:scaleX(0.9805);">Average of Rating and Sum of Total Sales by Order</span>
<span class="t" style="left:1114.00px;top:570.80px;font-size:21.5px;line-height:21.5px;color:#252423;-webkit-text-stroke:0.35px #252423;transform:scaleX(0.9710);">Location and Order ID</span>
<svg class="abs" style="left:1107px;top:542px" width="518" height="367" viewBox="1107 542 518 367"><defs><radialGradient id="kn" cx="0.45" cy="0.35" r="0.75"><stop offset="0" stop-color="#ffffff"/><stop offset="0.6" stop-color="#f0f0f0"/><stop offset="1" stop-color="#cfcfcf"/></radialGradient></defs><path d="M1115.7 634.2 H1618" stroke="#EAEAEA" stroke-width="1.2"/><path d="M1115.7 716 H1618" stroke="#EAEAEA" stroke-width="1.2"/><path d="M1115.7 798.4 H1618" stroke="#EAEAEA" stroke-width="1.2"/><path d="M1115.7 880.5 H1618" stroke="#EAEAEA" stroke-width="1.2"/><path d="M1255.3 598.7 V899.7" stroke="#EAEAEA" stroke-width="1.2"/><path d="M1344 598.7 V899.7" stroke="#EAEAEA" stroke-width="1.2"/><path d="M1432.9 598.7 V899.7" stroke="#EAEAEA" stroke-width="1.2"/><path d="M1521.4 598.7 V899.7" stroke="#EAEAEA" stroke-width="1.2"/><g fill="none" stroke="#C4C4C4" stroke-width="1.6"><circle cx="1136.3" cy="620" r="5.6"/><path d="M1140.5 624.5 L1146.5 631" stroke-width="2.6" stroke-linecap="round"/><path d="M1133.4 620 h5.8" stroke-width="1.4"/></g><text x="1157.40" y="627.60" font-size="17.5" fill="#C9C9C9" textLength="74.00" lengthAdjust="spacingAndGlyphs" >Zoom Out</text><text x="1153.90" y="640.50" font-size="16" fill="#111" textLength="45.30" lengthAdjust="spacingAndGlyphs" stroke="#111" stroke-width="0.2" >50.00K</text><text x="1153.90" y="722.20" font-size="16" fill="#111" textLength="45.30" lengthAdjust="spacingAndGlyphs" stroke="#111" stroke-width="0.2" >40.00K</text><text x="1153.90" y="804.30" font-size="16" fill="#111" textLength="45.30" lengthAdjust="spacingAndGlyphs" stroke="#111" stroke-width="0.2" >30.00K</text><text x="1255.50" y="863.10" font-size="16" fill="#111" textLength="28.00" lengthAdjust="spacingAndGlyphs" text-anchor="middle" stroke="#111" stroke-width="0.2" >3.40</text><text x="1344.00" y="863.10" font-size="16" fill="#111" textLength="28.00" lengthAdjust="spacingAndGlyphs" text-anchor="middle" stroke="#111" stroke-width="0.2" >3.50</text><text x="1432.90" y="863.10" font-size="16" fill="#111" textLength="28.00" lengthAdjust="spacingAndGlyphs" text-anchor="middle" stroke="#111" stroke-width="0.2" >3.60</text><text x="1521.40" y="863.10" font-size="16" fill="#111" textLength="28.00" lengthAdjust="spacingAndGlyphs" text-anchor="middle" stroke="#111" stroke-width="0.2" >3.70</text><circle cx="1488" cy="649.8" r="6.6" fill="#990099"/><circle cx="1277" cy="704.9" r="6.6" fill="#FF6A13"/><circle cx="1341.4" cy="716.3" r="6.6" fill="#B5A5F7"/><circle cx="1231.8" cy="731.6" r="6.6" fill="#BA5BD2"/><circle cx="1267.8" cy="740.9" r="6.6" fill="#BFA213"/><circle cx="1318.2" cy="736.2" r="6.6" fill="#5FD068"/><circle cx="1338.9" cy="734.5" r="6.6" fill="#0C8DD0"/><circle cx="1235.2" cy="749.8" r="6.6" fill="#1FC1EE"/><circle cx="1318.2" cy="748.5" r="6.6" fill="#F46FCB"/><circle cx="1236.9" cy="761.6" r="6.6" fill="#3F97F7"/><circle cx="1380.4" cy="761.2" r="6.6" fill="#4668C5"/><circle cx="1412.2" cy="755.3" r="6.6" fill="#D9B300"/><circle cx="1402.8" cy="756.1" r="6.6" fill="#E66C37"/><circle cx="1451.5" cy="763.3" r="6.6" fill="#6B007B"/><circle cx="1298.3" cy="778.6" r="6.6" fill="#12239E"/><circle cx="1317.7" cy="768.4" r="6.6" fill="#118DFF"/><circle cx="1364.7" cy="778.1" r="6.6" fill="#1AAB40"/><circle cx="1429.9" cy="773.5" r="6.6" fill="#0ED9BE"/><circle cx="1457" cy="781.1" r="6.6" fill="#197278"/><circle cx="1383.4" cy="791.3" r="6.6" fill="#D64550"/><circle cx="1533.7" cy="796.8" r="6.6" fill="#E044A7"/><circle cx="1198.7" cy="806.5" r="6.6" fill="#744EC2"/><circle cx="1393.1" cy="816.2" r="6.6" fill="#FF8080"/><circle cx="1283.4" cy="830.2" r="6.6" fill="#E8009A"/><circle cx="1255.5" cy="850.5" r="6.6" fill="#FFA058"/><rect x="1133.8" y="727.4" width="4" height="127" rx="2" fill="#DEDEDE"/><circle cx="1136.5" cy="827.6" r="15" fill="#000" fill-opacity="0.10"/><circle cx="1136.5" cy="826.4" r="14.6" fill="url(#kn)" stroke="#C9C9C9" stroke-width="0.8"/><rect x="1124" y="870.6" width="21" height="15.8" rx="3" fill="#666"/><g stroke="#fff" stroke-width="0.9" fill="#fff"><circle cx="1134.5" cy="878.7" r="2.6"/><circle cx="1127.8" cy="876.4" r="1.1"/><circle cx="1127.8" cy="882.3" r="1.1"/><circle cx="1139" cy="874.5" r="1.1"/><circle cx="1141.5" cy="879.2" r="1.1"/><circle cx="1139" cy="882.6" r="1.1"/><path d="M1134.5 878.7 L1127.8 876.4 M1134.5 878.7 L1127.8 882.3 M1134.5 878.7 L1139 874.5 M1134.5 878.7 L1141.5 879.2 M1134.5 878.7 L1139 882.6"/></g><g fill="none" stroke="#444" stroke-width="1.3"><ellipse cx="1176.5" cy="875.3" rx="8" ry="6"/><path d="M1172.5 880.3 c-2 2.5 2.5 4 4 2.5 c1.5 2.5 -1 6 -4.5 6.5"/></g><circle cx="1597.6" cy="622.3" r="9.8" fill="none" stroke="#707070" stroke-width="1.5"/><text x="1597.60" y="627.80" font-size="15" fill="#707070" text-anchor="middle" >?</text></svg>
</body></html>
